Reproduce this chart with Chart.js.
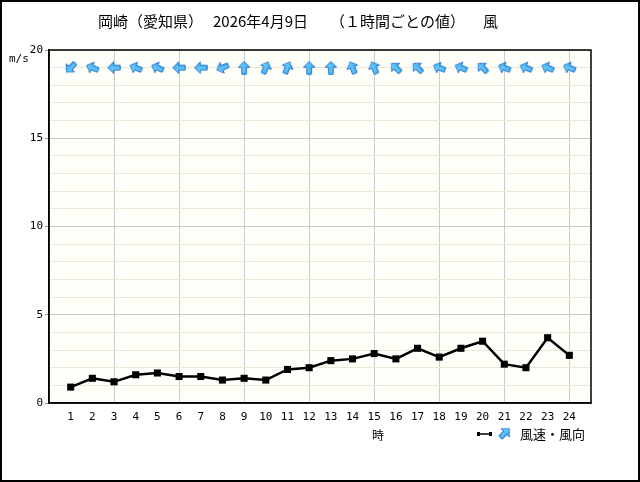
<!DOCTYPE html>
<html><head><meta charset="utf-8">
<script src="https://cdn.jsdelivr.net/npm/chart.js@4/dist/chart.umd.min.js"></script>
<style>html,body{margin:0;padding:0;background:#fff}canvas{display:block}</style>
</head><body>
<canvas id="c" width="640" height="482"></canvas>
<script>
const hours = [1,2,3,4,5,6,7,8,9,10,11,12,13,14,15,16,17,18,19,20,21,22,23,24];
const windSpeed = [0.9,1.4,1.2,1.6,1.7,1.5,1.5,1.3,1.4,1.3,1.9,2.0,2.4,2.5,2.8,2.5,3.1,2.6,3.1,3.5,2.2,2.0,3.7,2.7];
const windDirection = ['北東','東南東','東','東南東','東南東','東','東','東北東','南','南南西','南南西','南','南','南南東','南南東','南東','南東','東南東','東南東','南東','東南東','東南東','東南東','東南東'];
const yTickLabels = [0,5,10,15,20];
const titleParts = ['岡崎（愛知県）','2026年4月9日','（１時間ごとの値）','風'];
const unitLabel = 'm/s';
const xAxisLabel = '時';
const legendLabel = '風速・風向';

const dirDeg = {'北':0,'北北東':22.5,'北東':45,'東北東':67.5,'東':90,'東南東':112.5,'南東':135,'南南東':157.5,
  '南':180,'南南西':202.5,'南西':225,'西南西':247.5,'西':270,'西北西':292.5,'北西':315,'北北西':337.5};

function makeArrow(){
  const c = document.createElement('canvas');
  c.width = 14; c.height = 14;
  const g = c.getContext('2d');
  g.beginPath();
  g.moveTo(7,0.8); g.lineTo(12.8,6.6); g.lineTo(9.3,6.6); g.lineTo(9.3,13.2);
  g.lineTo(4.7,13.2); g.lineTo(4.7,6.6); g.lineTo(1.2,6.6); g.closePath();
  const gr = g.createLinearGradient(0,0,14,0);
  gr.addColorStop(0,'#8adaff'); gr.addColorStop(1,'#2ea4ec');
  g.fillStyle = gr; g.fill();
  g.strokeStyle = '#1a6fcf'; g.lineWidth = 1; g.stroke();
  return c;
}
const arrowImg = makeArrow();

const FONT_NUM = "'DejaVu Sans Mono', monospace";
const FONT_JP = "'Noto Sans CJK JP', sans-serif";

const decor = {
  id: 'decor',
  beforeDraw(chart){
    const {ctx, chartArea:a} = chart;
    ctx.save();
    ctx.fillStyle = '#fff';
    ctx.fillRect(0,0,chart.width,chart.height);
    ctx.fillStyle = '#fffffa';
    ctx.fillRect(a.left,a.top,a.right-a.left,a.bottom-a.top);
    ctx.restore();
  },
  afterDraw(chart){
    const {ctx, chartArea:a} = chart;
    ctx.save();
    ctx.strokeStyle = '#000'; ctx.lineWidth = 1.5;
    ctx.strokeRect(a.left, a.top, a.right-a.left, a.bottom-a.top);
    ctx.lineWidth = 2;
    ctx.strokeRect(1,1,chart.width-2,chart.height-2);
    ctx.fillStyle = '#000';
    ctx.textBaseline = 'middle';
    ctx.font = '15px ' + FONT_JP;
    const tx = [98,213,330,483];
    titleParts.forEach((t,i)=>ctx.fillText(t, tx[i], 21));
    ctx.font = '11px ' + FONT_NUM;
    ctx.fillText(unitLabel, 9, 59);
    ctx.font = '12px ' + FONT_JP;
    ctx.fillText(xAxisLabel, 372, 435);
    // legend
    ctx.strokeStyle = '#000'; ctx.lineWidth = 1.5;
    ctx.beginPath(); ctx.moveTo(479,434); ctx.lineTo(490,434); ctx.stroke();
    ctx.fillRect(477,432,3,4); ctx.fillRect(489,432,3,4);
    ctx.translate(505,433); ctx.rotate(Math.PI/4);
    ctx.drawImage(arrowImg,-7,-7,14,14);
    ctx.setTransform(1,0,0,1,0,0);
    ctx.font = '13px ' + FONT_JP;
    ctx.fillText(legendLabel, 520, 434);
    ctx.restore();
  }
};

new Chart(document.getElementById('c'), {
  type: 'scatter',
  data: {
    datasets: [
      {
        label: '風速',
        data: hours.map((h,i)=>({x:h, y:windSpeed[i]})),
        showLine: true,
        borderColor: '#000',
        backgroundColor: '#000',
        borderWidth: 2.5,
        pointStyle: 'rect',
        pointRadius: 5,
        pointBorderWidth: 0,
        order: 2
      },
      {
        label: '風向',
        data: hours.map(h=>({x:h, y:19})),
        showLine: false,
        pointStyle: arrowImg,
        pointRadius: 7,
        rotation: windDirection.map(d=>dirDeg[d]+180),
        order: 1
      }
    ]
  },
  options: {
    responsive: false,
    animation: false,
    events: [],
    layout: {padding: {left:0, top:50, right:49, bottom:0}},
    plugins: {legend:{display:false}, tooltip:{enabled:false}, title:{display:false}},
    scales: {
      x: {
        type: 'linear', min: 0, max: 25,
        ticks: {stepSize:1, autoSkip:false, maxRotation:0, padding:8, color:'#000',
          font:{family:FONT_NUM, size:11},
          callback: v => hours.includes(v) ? String(v) : ''},
        grid: {drawTicks:false,
          color: c => (c.tick && c.tick.value%3===0 && c.tick.value>0 && c.tick.value<25) ? '#cccccc' : 'rgba(0,0,0,0)'},
        border: {color:'#000', width:1.5},
        afterFit: s => { s.height = 79; }
      },
      y: {
        min: 0, max: 20,
        ticks: {stepSize:1, autoSkip:false, padding:2, color:'#000',
          font:{family:FONT_NUM, size:11},
          callback: v => yTickLabels.includes(v) ? String(v) : ''},
        grid: {
          color: c => (c.tick && c.tick.value%5===0) ? '#c8c8c8' : '#efe7d6',
          tickColor: c => (c.tick && c.tick.value%5===0) ? '#999' : 'rgba(0,0,0,0)',
          tickLength: 4
        },
        border: {color:'#000', width:1.5},
        afterFit: s => { s.width = 49; }
      }
    }
  },
  plugins: [decor]
});
</script>
</body></html>
